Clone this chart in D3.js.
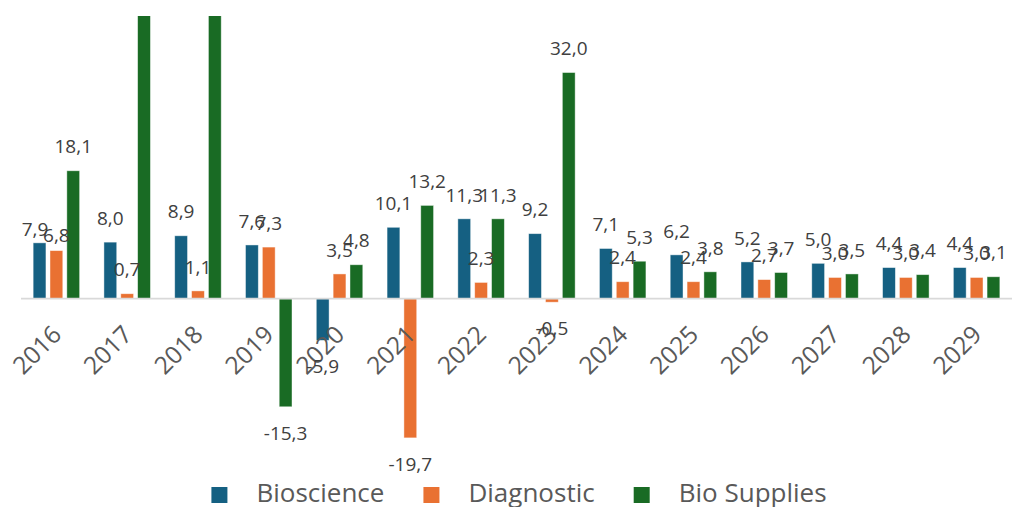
<!DOCTYPE html>
<html>
<head>
<meta charset="utf-8">
<script src="https://cdn.jsdelivr.net/npm/d3@7"></script>
<style>
  html, body { margin: 0; padding: 0; background: #fff; }
  svg { display: block; font-family: "Open Sans", "Noto Sans", sans-serif; }
</style>
</head>
<body>
<svg id="chart" width="1013" height="507"></svg>
<script>
// Year-on-year growth (%) by business unit
const years = ["2016", "2017", "2018", "2019", "2020", "2021", "2022",
               "2023", "2024", "2025", "2026", "2027", "2028", "2029"];
const seriesNames = ["Bioscience", "Diagnostic", "Bio Supplies"];
const bioscience  = [7.9, 8.0, 8.9, 7.6, -5.9, 10.1, 11.3, 9.2, 7.1, 6.2, 5.2, 5.0, 4.4, 4.4];
const diagnostic  = [6.8, 0.7, 1.1, 7.3, 3.5, -19.7, 2.3, -0.5, 2.4, 2.4, 2.7, 3.0, 3.0, 3.0];
const bioSupplies = [18.1, 47.5, 45.2, -15.3, 4.8, 13.2, 11.3, 32.0, 5.3, 3.8, 3.7, 3.5, 3.4, 3.1];
const seriesColors = ["#156082", "#E97132", "#196B24"];
const yDomain = [-20, 40];

const seriesValues = [bioscience, diagnostic, bioSupplies];
const rows = [];
years.forEach((yr, i) => {
  seriesNames.forEach((s, j) => rows.push({ year: yr, series: s, si: j, value: seriesValues[j][i] }));
});

const svg = d3.select("#chart");
const plot = { left: 21, right: 1012, top: 16, bottom: 440 };

const x = d3.scaleBand().domain(years).range([plot.left, plot.right]).padding(0);
const groupW = x.bandwidth() * 0.657;
const xs = d3.scaleBand().domain(seriesNames)
  .range([-groupW / 2, groupW / 2]).paddingInner(0.24).paddingOuter(0);
const y = d3.scaleLinear().domain(yDomain).range([plot.bottom, plot.top]);
const color = d3.scaleOrdinal().domain(seriesNames).range(seriesColors);

svg.append("defs").append("clipPath").attr("id", "plotClip")
  .append("rect")
  .attr("x", plot.left).attr("y", plot.top)
  .attr("width", plot.right - plot.left).attr("height", plot.bottom - plot.top);

const barX = d => x(d.year) + x.bandwidth() / 2 + xs(d.series);

// bars
svg.append("g").attr("clip-path", "url(#plotClip)")
  .selectAll("rect").data(rows).join("rect")
  .attr("x", barX)
  .attr("width", xs.bandwidth())
  .attr("y", d => y(Math.max(0, d.value)))
  .attr("height", d => Math.abs(y(d.value) - y(0)))
  .attr("fill", d => color(d.series))
  .attr("stroke", "#ffffff").attr("stroke-opacity", 0.55).attr("stroke-width", 0.8);

// zero line
svg.append("line")
  .attr("x1", plot.left).attr("x2", plot.right)
  .attr("y1", y(0)).attr("y2", y(0))
  .attr("stroke", "#d9d9d9").attr("stroke-width", 1.6);

// category labels, rotated
const xAxis = d3.axisBottom(x).tickSize(0).tickPadding(0);
const gx = svg.append("g").attr("transform", `translate(0,${y(0)})`).call(xAxis);
gx.select(".domain").remove();
gx.selectAll("text")
  .attr("font-family", "'Open Sans', sans-serif")
  .attr("font-size", 24.5)
  .attr("fill", "#595959")
  .attr("text-anchor", "end")
  .attr("dy", null).attr("y", null)
  .attr("transform", "translate(6.5,37.5) rotate(-45)");

// value labels (hand-placed offsets for the crowded 2016 group)
const nudge = { "2016|Bioscience": [-4.5, 10], "2016|Diagnostic": [0, 8.3] };
const fmt = v => v.toFixed(1).replace(".", ",");
svg.append("g").selectAll("text")
  .data(rows.filter(d => y(d.value) >= plot.top && y(d.value) <= plot.bottom))
  .join("text")
  .attr("x", d => barX(d) + xs.bandwidth() / 2 + ((nudge[d.year + "|" + d.series] || [0, 0])[0]))
  .attr("y", d => (d.value >= 0 ? y(d.value) - 17.3 : y(d.value) + 33)
                  + ((nudge[d.year + "|" + d.series] || [0, 0])[1]))
  .attr("text-anchor", "middle")
  .attr("font-size", 19)
  .attr("fill", "#404040")
  .text(d => fmt(d.value));

// legend
const legend = svg.append("g");
const items = legend.selectAll("g").data(seriesNames).join("g");
items.append("rect").attr("width", 16).attr("height", 16).attr("y", 487)
  .attr("fill", d => color(d));
items.append("text").attr("x", 45).attr("y", 502)
  .attr("font-size", 26).attr("fill", "#595959")
  .text(d => d);
let cursor = 0;
const offsets = [];
items.each(function () {
  offsets.push(cursor);
  const w = d3.select(this).select("text").node().getComputedTextLength();
  cursor += 45 + w + 39;
});
const total = cursor - 39;
const startX = 519 - total / 2;
items.attr("transform", (d, i) => `translate(${startX + offsets[i]},0)`);
</script>
</body>
</html>
